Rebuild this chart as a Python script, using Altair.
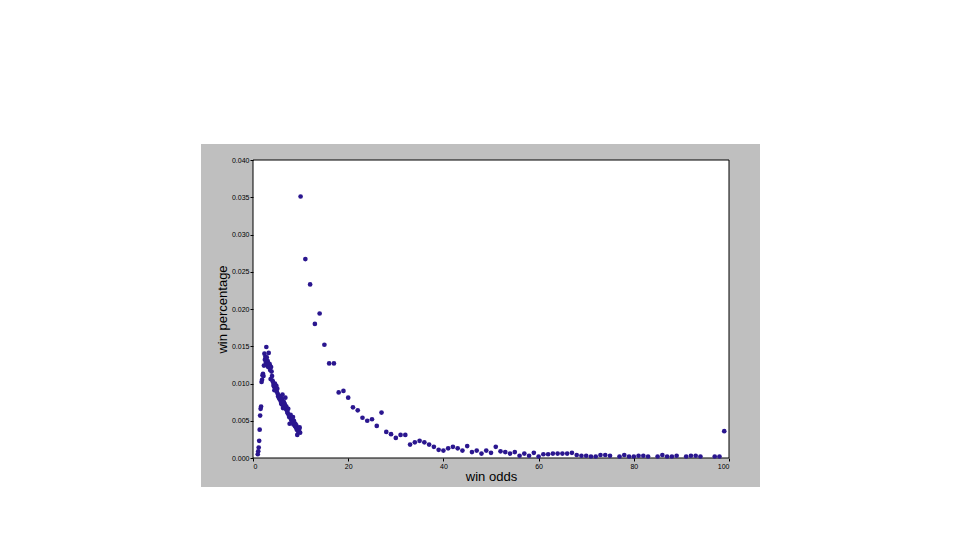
import altair as alt
import pandas as pd

# win odds (x) and win percentage (y)
odds_low = [1.0, 1.1, 1.2, 1.3, 1.4, 1.5, 1.6, 1.7, 1.8, 1.9,
            2.0, 2.1, 2.2, 2.3, 2.4, 2.5, 2.6, 2.7, 2.8, 2.9,
            3.0, 3.1, 3.2, 3.3, 3.4, 3.5, 3.6, 3.7, 3.8, 3.9,
            4.0, 4.1, 4.2, 4.3, 4.4, 4.5, 4.6, 4.7, 4.8, 4.9,
            5.0, 5.1, 5.2, 5.3, 5.4, 5.5, 5.6, 5.7, 5.8, 5.9,
            6.0, 6.1, 6.2, 6.3, 6.4, 6.5, 6.6, 6.7, 6.8, 6.9,
            7.0, 7.1, 7.2, 7.3, 7.4, 7.5, 7.6, 7.7, 7.8, 7.9,
            8.0, 8.1, 8.2, 8.3, 8.4, 8.5, 8.6, 8.7, 8.8, 8.9,
            9.0, 9.1, 9.2, 9.3, 9.4, 9.5, 9.6, 9.7, 9.8, 9.9]
pct_low = [0.0005, 0.0009, 0.0014, 0.0023, 0.0038, 0.0057, 0.0066, 0.0069, 0.0102, 0.0105,
           0.0111, 0.0113, 0.0110, 0.0124, 0.0140, 0.0132, 0.0136, 0.0128, 0.0149, 0.0135,
           0.0124, 0.0130, 0.0122, 0.0141, 0.0124, 0.0126, 0.0118, 0.0106, 0.0122, 0.0116,
           0.0110, 0.0104, 0.0102, 0.0098, 0.0096, 0.0091, 0.0100, 0.0094, 0.0092, 0.0097,
           0.0089, 0.0093, 0.0086, 0.0083, 0.0082, 0.0080, 0.0083, 0.0078, 0.0081, 0.0074,
           0.0072, 0.0079, 0.0085, 0.0067, 0.0070, 0.0075, 0.0068, 0.0072, 0.0081, 0.0066,
           0.0069, 0.0064, 0.0062, 0.0060, 0.0066, 0.0058, 0.0055, 0.0046, 0.0056, 0.0058,
           0.0052, 0.0050, 0.0053, 0.0048, 0.0055, 0.0045, 0.0050, 0.0047, 0.0043, 0.0046,
           0.0041, 0.0044, 0.0038, 0.0031, 0.0040, 0.0036, 0.0035, 0.0039, 0.0041, 0.0034]

odds_high = [10, 11, 12, 13, 14, 15, 16, 17, 18, 19,
             20, 21, 22, 23, 24, 25, 26, 27, 28, 29,
             30, 31, 32, 33, 34, 35, 36, 37, 38, 39,
             40, 41, 42, 43, 44, 45, 46, 47, 48, 49,
             50, 51, 52, 53, 54, 55, 56, 57, 58, 59,
             60, 61, 62, 63, 64, 65, 66, 67, 68, 69,
             70, 71, 72, 73, 74, 75, 77, 78, 79,
             80, 81, 82, 83, 85, 86, 87, 88, 89,
             91, 92, 93, 94, 97, 98, 99]
pct_high = [0.0351, 0.0267, 0.0233, 0.0180, 0.0194, 0.0152, 0.0127, 0.0127, 0.0088, 0.0090,
            0.0081, 0.0068, 0.0064, 0.0054, 0.0050, 0.0052, 0.0043, 0.0061, 0.0035, 0.0032,
            0.0027, 0.0031, 0.0031, 0.0018, 0.0021, 0.0023, 0.0021, 0.0018, 0.0015, 0.0011,
            0.0010, 0.0013, 0.0015, 0.0013, 0.0010, 0.0016, 0.0008, 0.0010, 0.0006, 0.0010,
            0.0007, 0.0015, 0.0009, 0.0008, 0.0006, 0.0008, 0.0003, 0.0006, 0.0003, 0.0007,
            0.0002, 0.0005, 0.0005, 0.0006, 0.0006, 0.0006, 0.0006, 0.0007, 0.0004, 0.0003,
            0.0003, 0.0002, 0.0002, 0.0004, 0.0004, 0.0003, 0.0002, 0.0004, 0.0002,
            0.0002, 0.0003, 0.0003, 0.0002, 0.0002, 0.0004, 0.0002, 0.0002, 0.0003,
            0.0002, 0.0003, 0.0003, 0.0002, 0.0002, 0.0002, 0.0036]

x_ticks = [0, 20, 40, 60, 80, 100]
y_ticks = [0.000, 0.005, 0.010, 0.015, 0.020, 0.025, 0.030, 0.035, 0.040]

df = pd.DataFrame({"odds": odds_low + odds_high, "pct": pct_low + pct_high})

W, H = 476, 298

frame = alt.Chart(pd.DataFrame({"a": [0]})).mark_rect(color="#bfbfbf").encode(
    x=alt.value(-52), x2=alt.value(W + 31), y=alt.value(-16), y2=alt.value(H + 29)
)
inner = alt.Chart(pd.DataFrame({"a": [0]})).mark_rect(
    fill="white", stroke="black", strokeWidth=1
).encode(
    x=alt.value(0), x2=alt.value(W), y=alt.value(0), y2=alt.value(H)
)

points = alt.Chart(df).mark_circle(size=22, color="#2a168f", opacity=1).encode(
    x=alt.X("odds:Q", scale=alt.Scale(domain=[0, 100], nice=False),
            axis=alt.Axis(title="win odds", values=x_ticks, format="d",
                          titlePadding=1, labelPadding=1, zindex=2)),
    y=alt.Y("pct:Q", scale=alt.Scale(domain=[0, 0.04], nice=False),
            axis=alt.Axis(title="win percentage", values=y_ticks, format=".3f",
                          titlePadding=2, labelPadding=1, zindex=2)),
)

chart = alt.layer(frame, inner, points).properties(
    width=W, height=H,
    autosize=alt.AutoSizeParams(type="none"),
    padding={"left": 245, "top": 152, "right": 60, "bottom": 60},
    background="white",
).configure_view(
    strokeWidth=0
).configure_axis(
    grid=False,
    domain=False,
    tickColor="black", tickSize=3,
    labelFont="Liberation Sans", labelFontSize=7, labelColor="black",
    titleFont="Liberation Sans", titleFontSize=13, titleFontWeight="normal",
    titleColor="black",
)

chart.save("out.html", embed_options={"renderer": "svg", "actions": False})
